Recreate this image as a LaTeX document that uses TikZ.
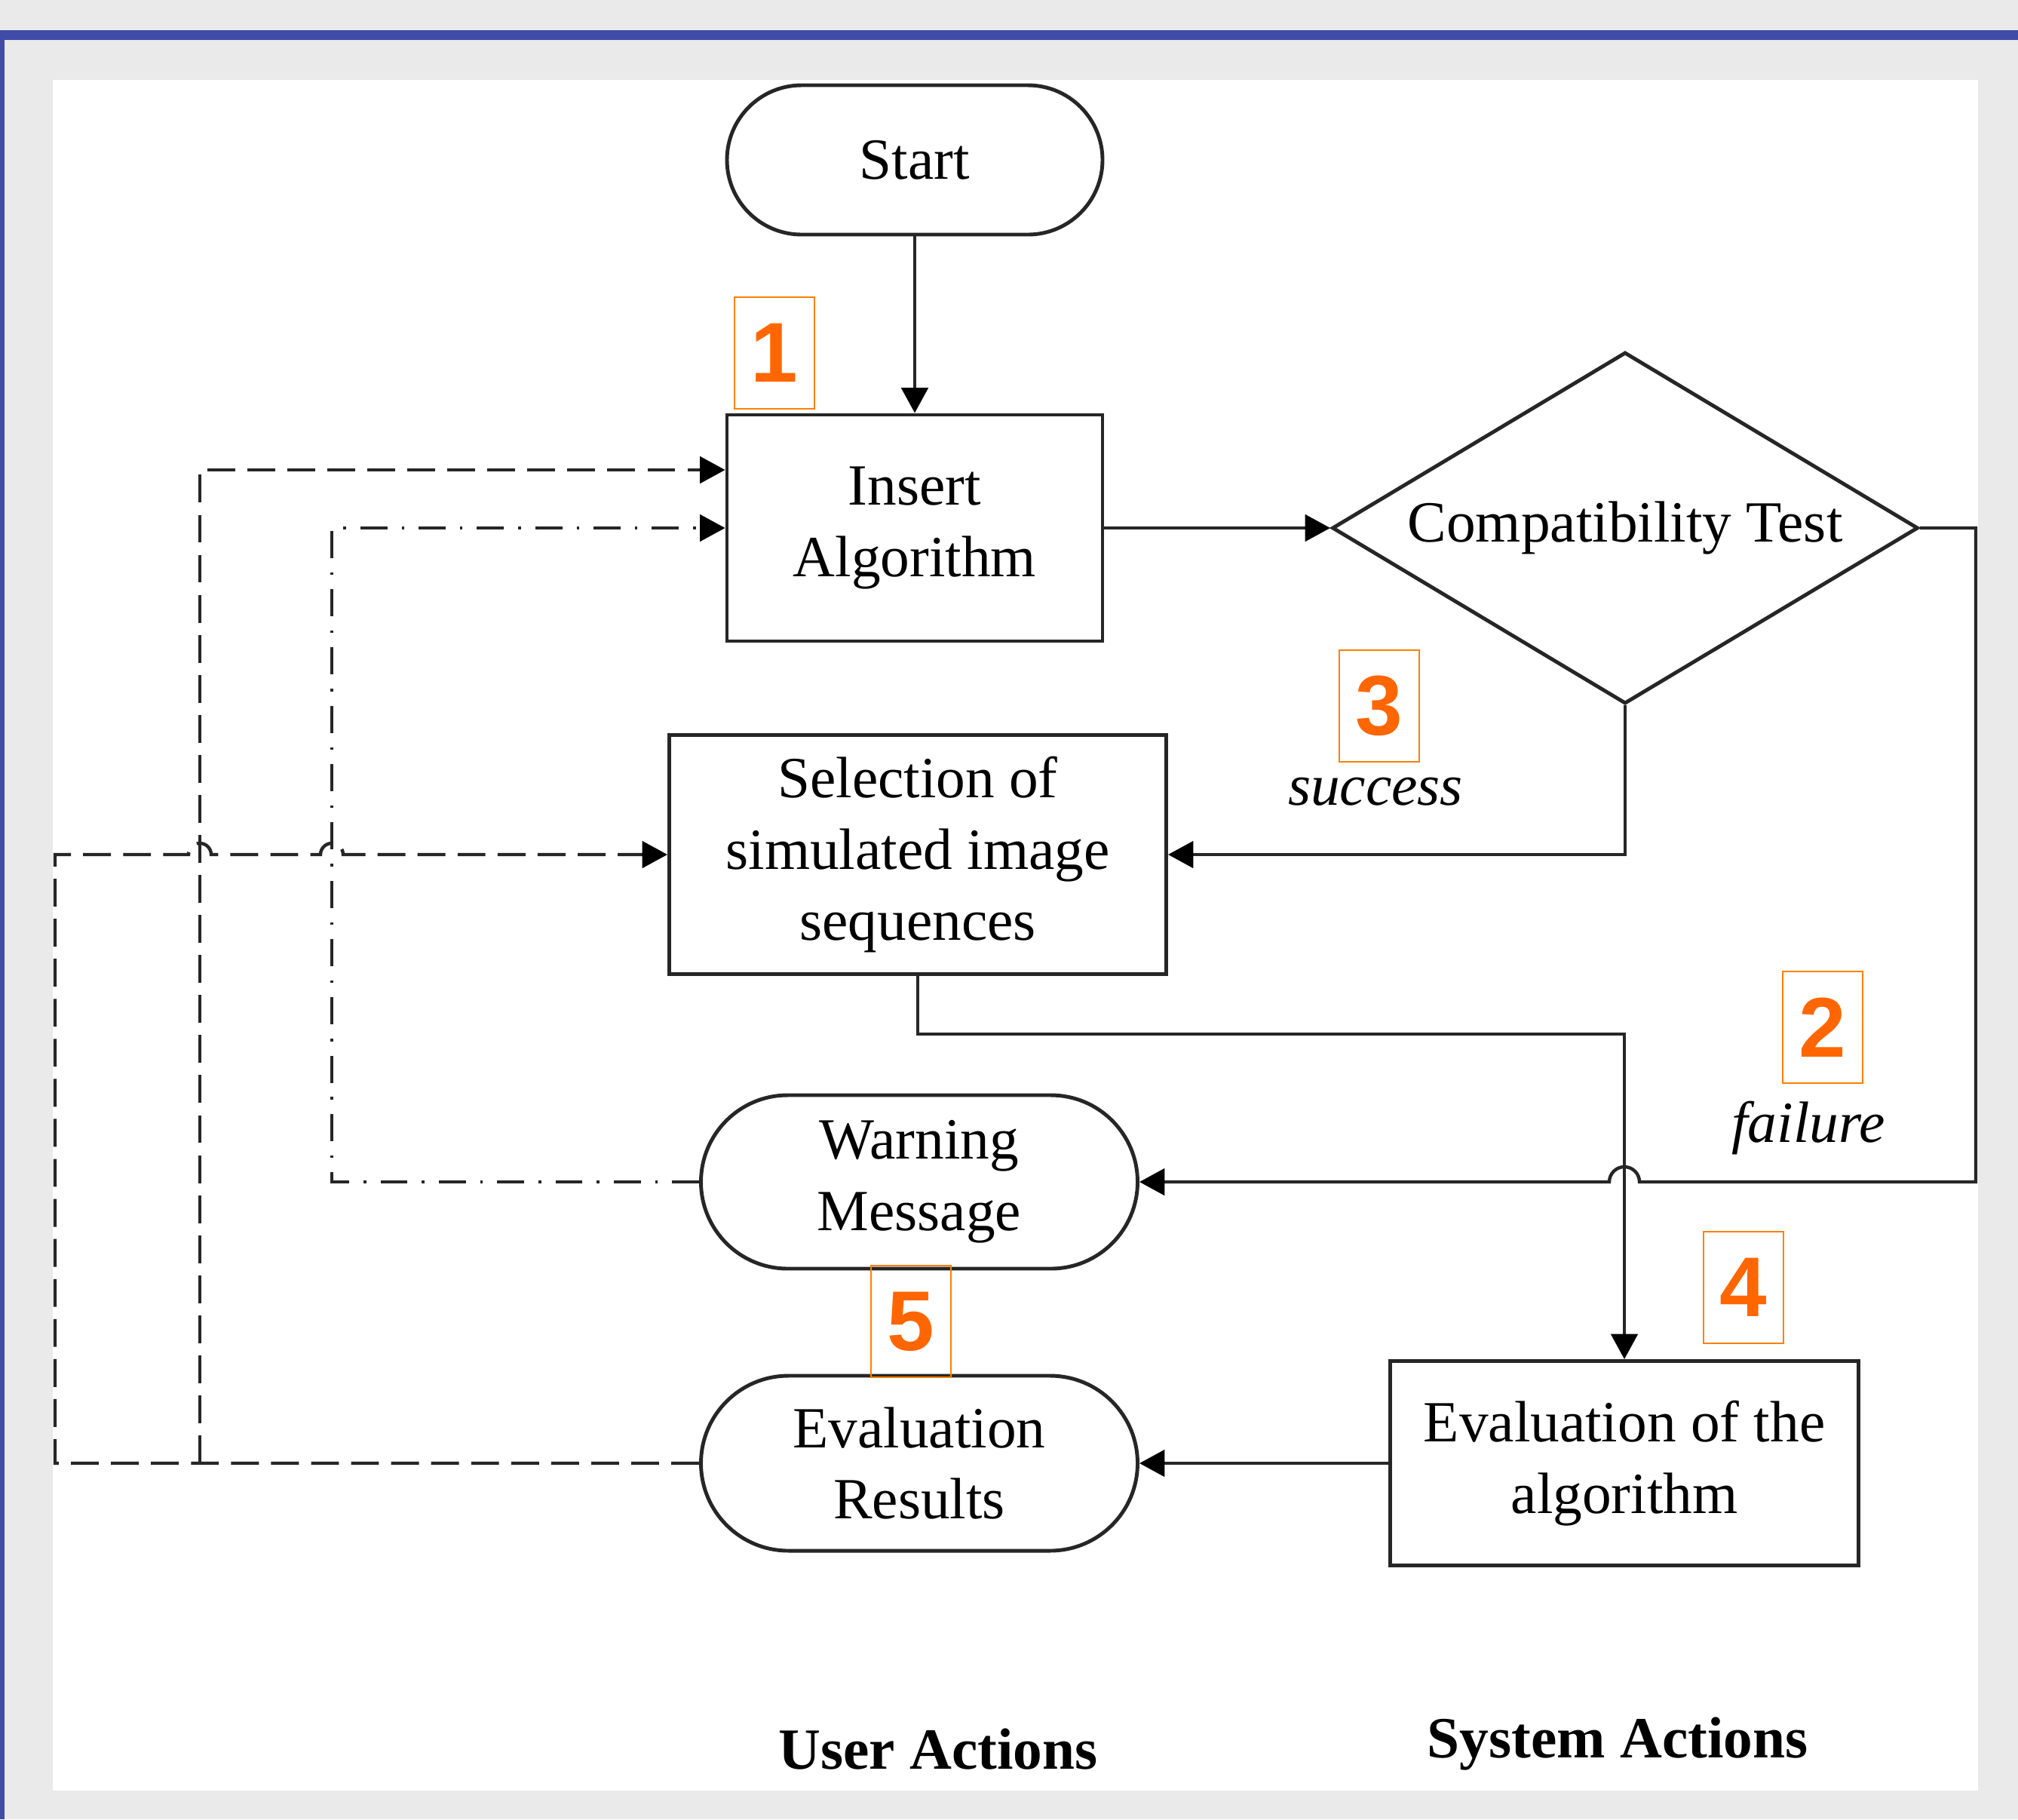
\documentclass[tikz,border=0pt]{standalone}
\usepackage{fontspec}
\setmainfont{Liberation Serif}
\newfontfamily\tagfont{Liberation Sans}
\usetikzlibrary{shapes.geometric,arrows.meta,calc}
\definecolor{framegray}{HTML}{EAEAEA}
\definecolor{frameblue}{HTML}{414BA8}
\definecolor{tagorange}{HTML}{FF6600}
\definecolor{tagline}{HTML}{FF8000}
\definecolor{ink}{HTML}{262626}

\tikzset{
  every node/.style={font=\fontsize{22}{27}\selectfont},
  procbox/.style={draw=ink, line width=1.4pt, rectangle, align=center, inner sep=0pt},
  termbox/.style={draw=ink, line width=1.4pt, rectangle, rounded corners=#1, align=center, inner sep=0pt},
  decbox/.style={draw=ink, line width=1.4pt, diamond, aspect=1.67, inner sep=0pt},
  numtag/.style={draw=tagline, line width=0.8pt, minimum width=1.06cm, minimum height=1.48cm,
    inner sep=0pt, text=tagorange, font=\tagfont\bfseries\fontsize{32}{32}\selectfont},
  flowline/.style={draw=ink, line width=1.25pt, -{Triangle[length=9.5pt,width=10pt,color=black]}},
  backline/.style={flowline, dash pattern=on 10.5pt off 4.6pt},
  retryline/.style={flowline, dash pattern=on 10.2pt off 5.4pt on 1pt off 5.4pt},
}

\begin{document}
\begin{tikzpicture}
\fill[framegray] (0,0) rectangle (26.76,-24.12);
\fill[frameblue] (0,-0.40) rectangle (26.76,-0.53);
\fill[frameblue] (0,-0.53) rectangle (0.06,-24.12);
\fill[white] (0.70,-1.06) rectangle (26.23,-23.74);

\node[termbox=0.99cm, minimum width=4.98cm, minimum height=1.98cm] (start) at (12.13,-2.12) {Start};
\node[procbox, minimum width=4.98cm, minimum height=3.00cm] (ins) at (12.13,-7.00) {Insert\\Algorithm};
\node[decbox, minimum width=7.77cm, minimum height=4.66cm] (comp) at (21.55,-7.00) {Compatibility Test};
\node[procbox, minimum width=6.59cm, minimum height=3.17cm] (sel) at (12.17,-11.33) {Selection of\\simulated image\\sequences};
\node[termbox=1.15cm, minimum width=5.79cm, minimum height=2.30cm] (warn) at (12.19,-15.67) {Warning\\Message};
\node[termbox=1.16cm, minimum width=5.79cm, minimum height=2.32cm] (evalres) at (12.19,-19.40) {Evaluation\\Results};
\node[procbox, minimum width=6.21cm, minimum height=2.71cm] (evalalg) at (21.54,-19.40) {Evaluation of the\\algorithm};

\node (succ) at (18.24,-10.50) {\itshape success};
\node (fail) at (23.98,-14.95) {\itshape failure};
\node (user) at (12.44,-23.19) {\bfseries User Actions};
\node (sys) at (21.45,-23.12) {\bfseries System Actions};

\node[numtag] (t1) at (10.27,-4.68) {1};
\node[numtag] (t2) at (24.17,-13.62) {2};
\node[numtag] (t3) at (18.29,-9.36) {3};
\node[numtag] (t4) at (23.12,-17.07) {4};
\node[numtag] (t5) at (12.08,-17.52) {5};

\coordinate (failx) at (26.20,-15.67);
\coordinate (loopL) at (0.73,-19.40);
\coordinate (loopM) at (2.65,-19.40);
\coordinate (loopD) at (4.40,-15.67);

\draw[flowline] (start) -- (ins);
\draw[flowline] (ins) -- (comp);
\draw[flowline] (comp.south) |- (sel.east);
\draw[flowline] (comp.east) -| (failx) -- ($(warn.east -| evalalg.north)+(0.2,0)$) arc (0:180:0.2) -- (warn.east);
\draw[flowline] (sel.south) -- ++(0,-0.77) -| (evalalg.north);
\draw[flowline] (evalalg.west) -- (evalres.east);
\draw[backline] (evalres.west) -- (loopL) |- ($(sel.west -| loopM)+(-0.15,0)$) arc (180:0:0.15)
  -- ($(sel.west -| loopD)+(-0.15,0)$) arc (180:0:0.15) -- (sel.west);
\draw[backline] (loopM) |- ([yshift=0.77cm]ins.west);
\draw[retryline] (warn.west) -- (loopD) |- (ins.west);
\end{tikzpicture}
\end{document}
